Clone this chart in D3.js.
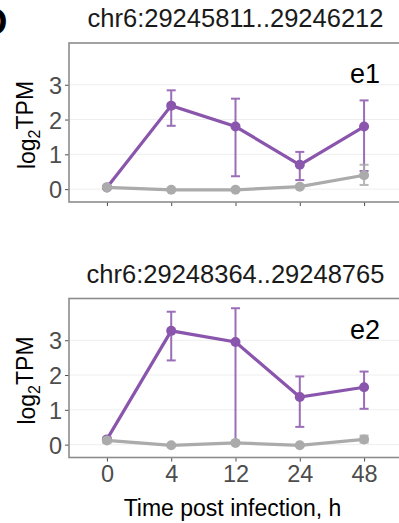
<!DOCTYPE html>
<html>
<head>
<meta charset="utf-8">
<script src="https://cdn.jsdelivr.net/npm/d3@7"></script>
<style>
  body { margin: 0; background: #fff; }
  text { font-family: "Liberation Sans", Arial, sans-serif; }
</style>
</head>
<body>
<div id="viz"></div>
<script>
// time points (categorical x)
var times = ["0", "4", "12", "24", "48"];
var yTicks = [0, 1, 2, 3];

// panel e1: chr6:29245811..29246212
var e1Title = "chr6:29245811..29246212";
var e1Inf = [0.05, 2.4, 1.8, 0.7, 1.8];
var e1InfLo = [0.03, 1.82, 0.37, 0.26, 0.52];
var e1InfHi = [0.08, 2.84, 2.6, 1.07, 2.55];
var e1Mock = [0.05, -0.02, -0.02, 0.07, 0.4];
var e1MockLo = [0.02, -0.03, -0.03, 0.04, 0.12];
var e1MockHi = [0.08, -0.01, -0.01, 0.1, 0.7];

// panel e2: chr6:29248364..29248765
var e2Title = "chr6:29248364..29248765";
var e2Inf = [0.15, 3.27, 2.95, 1.37, 1.65];
var e2InfLo = [0.12, 2.42, 0.1, 0.51, 1.03];
var e2InfHi = [0.2, 3.82, 3.92, 1.96, 2.1];
var e2Mock = [0.12, -0.02, 0.05, -0.02, 0.15];
var e2MockLo = [0.05, -0.04, 0.03, -0.04, 0.06];
var e2MockHi = [0.2, 0, 0.07, 0, 0.26];

var purple = "#8a55ac", grey = "#ababab";

var width = 399, height = 523;

var svg = d3.select("#viz").append("svg")
  .attr("width", width)
  .attr("height", height);

// cropped panel letter at the top-left
svg.append("text")
  .attr("x", -20)
  .attr("y", 35)
  .style("font-size", "38px")
  .style("font-weight", "bold")
  .text("D");

var x = d3.scalePoint().domain(times).range([69, 402]).padding(0.59);

function panel(top, title, label, inf, infLo, infHi, mock, mockLo, mockHi, showX) {
  var y = d3.scaleLinear().domain([-0.37, 4.2]).range([top + 159, top]);
  var g = svg.append("g");

  // grid
  g.selectAll(".grid")
    .data(yTicks)
    .enter().append("line")
    .attr("x1", 69).attr("x2", 402)
    .attr("y1", function (d) { return y(d); })
    .attr("y2", function (d) { return y(d); })
    .style("stroke", "#eeeeee")
    .style("stroke-width", 1);

  // title
  g.append("text")
    .attr("x", 235.5)
    .attr("y", top - 16)
    .style("text-anchor", "middle")
    .style("font-size", "25.5px")
    .style("fill", "#1a1a1a")
    .text(title);

  // label in corner
  g.append("text")
    .attr("x", 380)
    .attr("y", top + 40)
    .style("text-anchor", "end")
    .style("font-size", "27px")
    .style("fill", "#000")
    .text(label);

  // y axis
  var yAxis = g.append("g")
    .attr("transform", "translate(69,0)")
    .call(d3.axisLeft(y).tickValues(yTicks).tickFormat(d3.format("d")).tickSize(4).tickPadding(3));
  yAxis.select(".domain").remove();
  yAxis.selectAll("line").style("stroke", "#4d4d4d");
  yAxis.selectAll("text")
    .style("font-size", "23.5px")
    .style("fill", "#4d4d4d")
    .attr("dy", "0.36em");

  // x axis
  var xAxis = g.append("g")
    .attr("transform", "translate(0," + (top + 159) + ")")
    .call(d3.axisBottom(x).tickSize(4).tickPadding(4));
  xAxis.select(".domain").remove();
  xAxis.selectAll("line").style("stroke", "#4d4d4d");
  xAxis.selectAll("text")
    .style("font-size", "23.5px")
    .style("fill", "#4d4d4d")
    .style("display", showX ? null : "none");

  // y label
  var yl = g.append("text")
    .attr("transform", "translate(35," + (top + 82) + ") rotate(-90)")
    .style("text-anchor", "middle")
    .style("font-size", "23px")
    .style("fill", "#000");
  yl.append("tspan").text("log");
  yl.append("tspan").attr("dy", "0.3em").style("font-size", "16px").text("2");
  yl.append("tspan").attr("dy", "-0.3em").text("TPM");

  function series(vals, lo, hi, color) {
    var pts = times.map(function (t, i) { return { t: t, v: vals[i], lo: lo[i], hi: hi[i] }; });
    // error bars
    var eb = g.append("g").selectAll("g")
      .data(pts).enter().append("g")
      .style("stroke", color)
      .style("stroke-width", 2)
      .style("opacity", 0.85);
    eb.append("line")
      .attr("x1", function (d) { return x(d.t); })
      .attr("x2", function (d) { return x(d.t); })
      .attr("y1", function (d) { return y(d.lo); })
      .attr("y2", function (d) { return y(d.hi); });
    eb.append("line")
      .attr("x1", function (d) { return x(d.t) - 4.5; })
      .attr("x2", function (d) { return x(d.t) + 4.5; })
      .attr("y1", function (d) { return y(d.lo); })
      .attr("y2", function (d) { return y(d.lo); });
    eb.append("line")
      .attr("x1", function (d) { return x(d.t) - 4.5; })
      .attr("x2", function (d) { return x(d.t) + 4.5; })
      .attr("y1", function (d) { return y(d.hi); })
      .attr("y2", function (d) { return y(d.hi); });
    // line
    g.append("path")
      .datum(pts)
      .attr("d", d3.line()
        .x(function (d) { return x(d.t); })
        .y(function (d) { return y(d.v); }))
      .style("fill", "none")
      .style("stroke", color)
      .style("stroke-width", 3.2);
    g.selectAll(null)
      .data(pts).enter().append("circle")
      .attr("cx", function (d) { return x(d.t); })
      .attr("cy", function (d) { return y(d.v); })
      .attr("r", 5)
      .style("fill", color);
  }

  series(inf, infLo, infHi, purple);
  series(mock, mockLo, mockHi, grey);

  // panel border
  g.append("rect")
    .attr("x", 69).attr("y", top)
    .attr("width", 402 - 69).attr("height", 159)
    .style("fill", "none")
    .style("stroke", "#8c8c8c")
    .style("stroke-width", 1.6);
}

panel(43, e1Title, "e1", e1Inf, e1InfLo, e1InfHi, e1Mock, e1MockLo, e1MockHi, false);
panel(298.5, e2Title, "e2", e2Inf, e2InfLo, e2InfHi, e2Mock, e2MockLo, e2MockHi, true);

// x axis title
svg.append("text")
  .attr("x", 232.5)
  .attr("y", 516)
  .style("text-anchor", "middle")
  .style("font-size", "23px")
  .style("fill", "#000")
  .text("Time post infection, h");
</script>
</body>
</html>
